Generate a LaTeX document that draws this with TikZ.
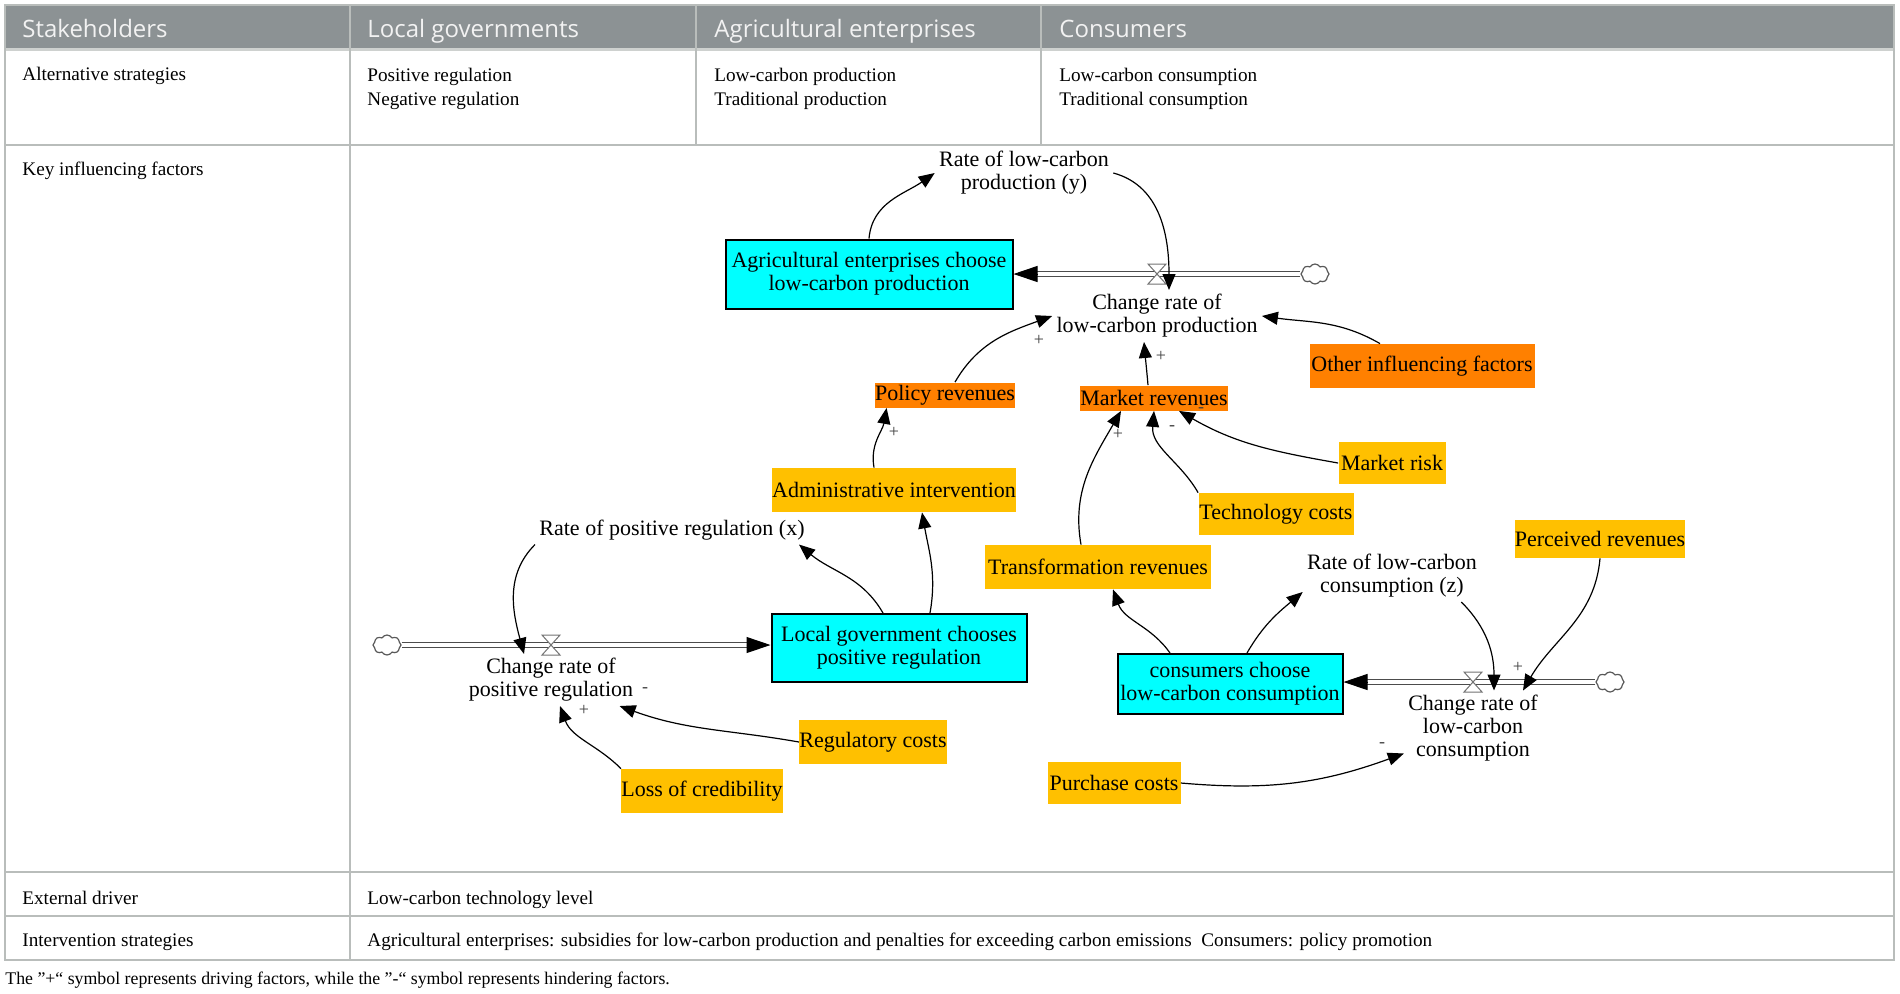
\documentclass[tikz,border=0pt]{standalone}
\usepackage{fontspec}
\setmainfont{Liberation Serif}
\newfontfamily\headfont{Open Sans}
\usetikzlibrary{arrows.meta, positioning, shapes.symbols, calc}

\definecolor{headgray}{HTML}{8C9294}
\definecolor{rulegray}{HTML}{B9BDBB}
\definecolor{stockcyan}{HTML}{00FFFF}
\definecolor{keyorange}{HTML}{FF8000}
\definecolor{factoryellow}{HTML}{FFC000}

\begin{document}
\begin{tikzpicture}[
        x=0.5pt, y=0.5pt,
        cell/.style={anchor=base west, inner sep=0pt, align=left, font=\fontsize{9.6}{12}\selectfont},
        headcell/.style={anchor=base west, inner sep=0pt, text=white!95!black, font=\headfont\fontsize{12}{14}\selectfont},
        rule/.style={draw=rulegray, line width=0.8pt},
        stock/.style={rectangle, draw=black, line width=1pt, fill=stockcyan, align=center, inner sep=0pt, font=\fontsize{11}{11.5}\selectfont},
        keyfactor/.style={rectangle, fill=keyorange, inner sep=0pt, font=\fontsize{11}{11.5}\selectfont},
        factor/.style={rectangle, fill=factoryellow, inner sep=0pt, font=\fontsize{11}{11.5}\selectfont},
        var/.style={align=center, inner sep=2pt, font=\fontsize{11}{11.5}\selectfont},
        link/.style={-{Triangle[length=8pt, width=6.5pt]}, line width=0.6pt, draw=black},
        pipe/.style={double=white, double distance=1.6pt, line width=0.5pt, draw=black!70},
        flowtip/.style={-{Triangle[length=12pt, width=8pt]}, line width=0.5pt, draw=black},
        valve/.style={draw=black!55, fill=white, line width=0.5pt},
        source/.style={cloud, cloud puffs=8, cloud puff arc=120, aspect=1.4, draw=black!65, line width=0.6pt, minimum width=14pt, minimum height=10pt, inner sep=0pt},
        sign/.style={inner sep=0pt, font=\fontsize{9}{9}\selectfont, text=black!75}
    ]
    \useasboundingbox (0,0) rectangle (1900,-993);

    % Table frame
    \fill[headgray] (5,-5) rectangle (1894,-48);
    \draw[draw=rulegray!70, line width=1.2pt] (5,-49.5) -- (1894,-49.5);
    \draw[rule] (5,-5) rectangle (1894,-960);
    \draw[rule] (5,-145) -- (1894,-145);
    \draw[rule] (5,-872) -- (1894,-872);
    \draw[rule] (5,-916) -- (1894,-916);
    \draw[rule] (350,-5) -- (350,-960);
    \draw[rule] (696,-5) -- (696,-145);
    \draw[rule] (1041,-5) -- (1041,-145);

    % Header row
    \node (hStake) [headcell] at (22,-37) {Stakeholders};
    \node (hGov) [headcell] at (367,-37) {Local governments};
    \node (hFirm) [headcell] at (714,-37) {Agricultural enterprises};
    \node (hCons) [headcell] at (1059,-37) {Consumers};

    % Table rows
    \node (altRow) [cell] at (22,-80.5) {Alternative strategies};
    \node (altGov) [cell, anchor=north west] at (367,-67.5) {Positive regulation\\Negative regulation};
    \node (altFirm) [cell, anchor=north west] at (714,-67.5) {Low-carbon production\\Traditional production};
    \node (altCons) [cell, anchor=north west] at (1059,-67.5) {Low-carbon consumption\\Traditional consumption};
    \node (keyRow) [cell] at (22,-175) {Key influencing factors};
    \node (extRow) [cell] at (22,-904) {External driver};
    \node (extText) [cell] at (367,-904) {Low-carbon technology level};
    \node (intRow) [cell] at (22,-946) {Intervention strategies};
    \node (intText) [cell] at (367,-946) {Agricultural enterprises: subsidies for low-carbon production and penalties for exceeding carbon emissions\ \ Consumers: policy promotion};
    \node (note) [cell, font=\fontsize{8.9}{10}\selectfont] at (5,-984) {The "+\textquotedblleft{} symbol represents driving factors, while the "-\textquotedblleft{} symbol represents hindering factors.};

    % Stocks
    \node (agri) [stock, minimum width=143.5pt, minimum height=34.5pt] at (869,-274) {Agricultural enterprises choose\\low-carbon production};
    \node (locgov) [stock, minimum width=127.5pt, minimum height=34pt] at (899,-648) {Local government chooses\\positive regulation};
    \node (cons) [stock, minimum width=112.5pt, minimum height=30pt] at (1230,-684) {consumers choose\\low-carbon consumption};

    % Revenues and other factors
    \node (policy) [keyfactor, minimum width=70pt, minimum height=12.5pt] at (945,-395) {Policy revenues};
    \node (market) [keyfactor, minimum width=74pt, minimum height=12.5pt] at (1154,-398) {Market revenues};
    \node (other) [keyfactor, minimum width=112.5pt, minimum height=22pt] at (1422,-366) {Other influencing factors};
    \node (admin) [factor, minimum width=121.5pt, minimum height=22pt] at (894,-490) {Administrative intervention};
    \node (risk) [factor, minimum width=53.5pt, minimum height=21pt] at (1392,-463) {Market risk};
    \node (tech) [factor, minimum width=77.5pt, minimum height=21pt] at (1276,-514) {Technology costs};
    \node (transf) [factor, minimum width=113pt, minimum height=22pt] at (1098,-567) {Transformation revenues};
    \node (perceived) [factor, minimum width=85pt, minimum height=19pt] at (1600,-539) {Perceived revenues};
    \node (regcost) [factor, minimum width=73.5pt, minimum height=22pt] at (873,-742) {Regulatory costs};
    \node (loss) [factor, minimum width=77.5pt, minimum height=22pt] at (702,-791) {Loss of credibility};
    \node (purchase) [factor, minimum width=66.5pt, minimum height=21pt] at (1114,-783) {Purchase costs};

    % Rates
    \node (rateY) [var] at (1024,-173) {Rate of low-carbon\\production (y)};
    \node (chgY) [var] at (1157,-316) {Change rate of\\low-carbon production};
    \node (rateX) [var] at (672,-530) {Rate of positive regulation (x)};
    \node (chgX) [var] at (551,-680) {Change rate of\\positive regulation};
    \node (rateZ) [var] at (1392,-576) {Rate of low-carbon\\consumption (z)};
    \node (chgZ) [var] at (1473,-728) {Change rate of\\low-carbon\\consumption};

    % Flows
    \node (cY) [source] at (1315,-274) {};
    \node (cX) [source] at (387,-645) {};
    \node (cZ) [source] at (1610,-682) {};
    \coordinate (vY) at (1157,-274);
    \coordinate (vX) at (551,-645);
    \coordinate (vZ) at (1473,-682);
    \coordinate (yIn) at (cY.west -| agri.east);
    \coordinate (xIn) at (cX.east -| locgov.west);
    \coordinate (zIn) at (cZ.west -| cons.east);

    \draw[pipe] (cY.west) -- ([xshift=11pt]yIn);
    \draw[flowtip] ([xshift=12pt]yIn) -- (yIn);
    \draw[pipe] (cX.east) -- ([xshift=-11pt]xIn);
    \draw[flowtip] ([xshift=-12pt]xIn) -- (xIn);
    \draw[pipe] (cZ.west) -- ([xshift=11pt]zIn);
    \draw[flowtip] ([xshift=12pt]zIn) -- (zIn);

    \draw[valve] ([shift={(-4.5pt,5pt)}]vY) -- ++(9pt,0) -- ++(-9pt,-10pt) -- ++(9pt,0) -- cycle;
    \draw[valve] ([shift={(-4.5pt,5pt)}]vX) -- ++(9pt,0) -- ++(-9pt,-10pt) -- ++(9pt,0) -- cycle;
    \draw[valve] ([shift={(-4.5pt,5pt)}]vZ) -- ++(9pt,0) -- ++(-9pt,-10pt) -- ++(9pt,0) -- cycle;

    % Production loop
    \draw[link] (agri.north) to[out=85, in=215] (rateY.west);
    \draw[link] (rateY.east) to[out=-15, in=90] ([xshift=6pt]chgY.north);
    \draw[link] ([xshift=5pt]policy.north) to[out=60, in=200] (chgY.west);
    \draw[link] ([xshift=-3pt]market.north) to[out=95, in=-85] ([xshift=-6.5pt]chgY.south);
    \draw[link] ([xshift=-21pt]other.north) to[out=150, in=-8] (chgY.east);
    \draw[link] ([xshift=-10pt]admin.north) to[out=100, in=-100] ([xshift=6pt]policy.south west);
    \draw[link] ([xshift=-8.5pt]transf.north) to[out=100, in=240] ([xshift=-16.5pt]market.south);
    \draw[link] (tech.north west) to[out=120, in=-95] (market.south);
    \draw[link] (risk.west) to[out=170, in=-30] ([xshift=12.5pt]market.south);

    % Regulation loop
    \draw[link] ([xshift=-8pt]locgov.north) to[out=120, in=-40] ([xshift=-5pt]rateX.south east);
    \draw[link] ([xshift=15.5pt]locgov.north) to[out=80, in=-80] ([xshift=14pt]admin.south);
    \draw[link] (rateX.south west) to[out=225, in=105] ([xshift=-13.5pt]chgX.north);
    \draw[link] (regcost.west) to[out=170, in=-20] ([xshift=-9pt]chgX.south east);
    \draw[link] (loss.north west) to[out=135, in=-70] ([xshift=4.5pt]chgX.south);

    % Consumption loop
    \draw[link] ([xshift=-30pt]cons.north) to[out=125, in=-70] ([xshift=7.5pt]transf.south);
    \draw[link] ([xshift=8.5pt]cons.north) to[out=60, in=220] ([yshift=5pt]rateZ.south west);
    \draw[link] ([xshift=-10pt]rateZ.south east) to[out=-45, in=90] ([xshift=10.5pt]chgZ.north);
    \draw[link] (perceived.south) to[out=-95, in=60] ([xshift=25pt]chgZ.north);
    \draw[link] (purchase.east) to[out=-5, in=200] ([yshift=6pt]chgZ.south west);

    % Polarities
    \node (sPolicy) [sign] at (1039,-340) {+};
    \node (sMarket) [sign] at (1161,-356) {+};
    \node (sAdmin) [sign] at (894,-432) {+};
    \node (sTransf) [sign] at (1118,-434) {+};
    \node (sTech) [sign] at (1172,-428) {-};
    \node (sRisk) [sign] at (1201,-410) {-};
    \node (sReg) [sign] at (645,-690) {-};
    \node (sLoss) [sign] at (584,-710) {+};
    \node (sPerc) [sign] at (1518,-667) {+};
    \node (sPurch) [sign] at (1382,-745) {-};

\end{tikzpicture}
\end{document}
